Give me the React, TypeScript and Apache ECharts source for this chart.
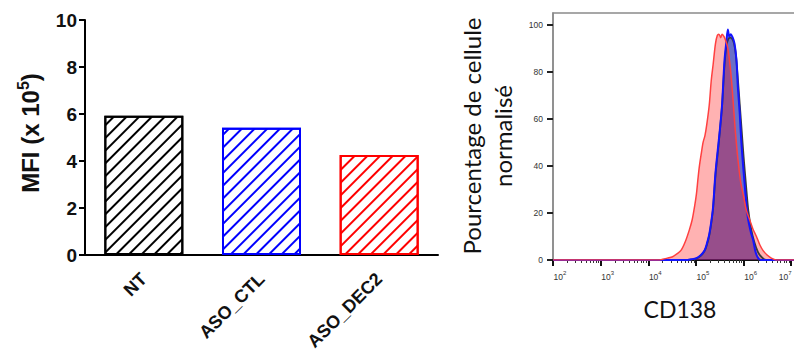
import React, { useEffect, useRef } from 'react';
import * as echarts from 'echarts';

// ---------- Left chart: MFI bar chart ----------
const categories = ['NT', 'ASO_CTL', 'ASO_DEC2'];
const mfiValues = [5.93, 5.42, 4.26];
const barColors = ['#000000', '#0000ff', '#ff0000'];

// ---------- Right chart: CD138 histograms (x = log10 of fluorescence, y = % of max) ----------
const ntCurve: [number, number][] = [
  [2, 0], [4.82, 0], [5.0, 0.6], [5.1, 1.8], [5.18, 3.8], [5.23, 6.5], [5.28, 10.5], [5.32, 15.5],
  [5.36, 22], [5.41, 36], [5.48, 50], [5.52, 59], [5.55, 66], [5.6, 83], [5.64, 91], [5.68, 94],
  [5.72, 94.5], [5.76, 94], [5.8, 92], [5.84, 87], [5.88, 77], [5.92, 66], [5.96, 55], [6.0, 44],
  [6.05, 32], [6.1, 21], [6.16, 13], [6.22, 8], [6.3, 3.5], [6.38, 1.2], [6.47, 0], [7.1, 0],
];
const ctlCurve: [number, number][] = [
  [2, 0], [4.79, 0], [4.9, 0.3], [5.0, 0.7], [5.1, 2], [5.18, 4], [5.23, 7], [5.28, 11], [5.32, 16],
  [5.36, 22.6], [5.41, 37], [5.48, 51], [5.52, 59], [5.55, 66.5], [5.6, 85], [5.64, 93], [5.67, 98],
  [5.7, 95], [5.73, 96], [5.77, 94.6], [5.81, 92], [5.85, 85], [5.88, 73.5], [5.92, 62], [5.95, 51],
  [5.99, 40], [6.04, 28], [6.09, 18], [6.15, 12], [6.2, 8.5], [6.25, 3.5], [6.3, 1], [6.36, 0], [7.1, 0],
];
const dec2Curve: [number, number][] = [
  [2, 0], [4.2, 0], [4.3, 0.3], [4.4, 0.8], [4.51, 1.4], [4.6, 2.6], [4.69, 4.2], [4.78, 8],
  [4.86, 12.7], [4.92, 17], [4.97, 22.6], [5.01, 28], [5.04, 34], [5.07, 39.5], [5.11, 45], [5.15, 50],
  [5.19, 53], [5.23, 58], [5.28, 66], [5.32, 76], [5.36, 83], [5.41, 92], [5.45, 95.5], [5.48, 96],
  [5.5, 95.5], [5.52, 94.5], [5.55, 96], [5.59, 95], [5.63, 93], [5.67, 90], [5.72, 82], [5.76, 73],
  [5.8, 62], [5.83, 54], [5.88, 43], [5.94, 33], [6.0, 27], [6.06, 21], [6.13, 17], [6.2, 13],
  [6.27, 10], [6.34, 6.5], [6.41, 4], [6.5, 2], [6.59, 0.7], [6.68, 0], [7.1, 0],
];
const yMajorTicks = [0, 20, 40, 60, 80, 100];
const yMinorTicks = [4, 8, 12, 16, 24, 28, 32, 36, 44, 48, 52, 56, 64, 68, 72, 76, 84, 88, 92, 96];
const decades = [2, 3, 4, 5, 6, 7];
const xMinorTicks: number[] = [];
[2, 3, 4, 5, 6].forEach((d) => {
  [2, 3, 4, 5, 6, 7, 8, 9].forEach((k) => xMinorTicks.push(d + Math.log10(k)));
});

const FLOW_FONT = 'Liberation Sans, Arial, sans-serif';
const CAL_FONT = 'Lato, sans-serif';

export default function App() {
  const ref = useRef<HTMLDivElement>(null);

  useEffect(() => {
    if (!ref.current) return;
    const chart = echarts.init(ref.current, undefined, { renderer: 'svg' });

    const bars = mfiValues.map((v, i) => ({
      value: v,
      itemStyle: {
        color: '#ffffff',
        borderColor: barColors[i],
        borderWidth: 2,
        decal: {
          symbol: 'rect',
          symbolSize: 1,
          color: barColors[i],
          dashArrayX: [1, 0],
          dashArrayY: [1.8, 6.5],
          rotation: -Math.PI / 4,
        },
      },
    }));

    const histSeries = (
      name: string,
      data: [number, number][],
      line: string,
      fill: string,
      lw: number
    ) => ({
      type: 'line',
      name,
      xAxisIndex: 1,
      yAxisIndex: 1,
      data,
      showSymbol: false,
      symbol: 'none',
      smooth: 0.3,
      lineStyle: { color: line, width: lw },
      areaStyle: { color: fill, opacity: 1 },
      z: 3,
    });

    const supRich = {
      b: { fontSize: 8.5, fontFamily: FLOW_FONT, color: '#333', padding: [0, 0, 0, 14] },
      e: { fontSize: 6, fontFamily: FLOW_FONT, color: '#333', padding: [0, 0, 7, 0] },
      r: { fontSize: 8.5, fontFamily: FLOW_FONT, color: '#333' },
      re: { fontSize: 6, fontFamily: FLOW_FONT, color: '#333', padding: [0, 12, 7, 0] },
    };

    chart.setOption({
      animation: false,
      grid: [
        { left: 85, right: 356, top: 20, bottom: 99, containLabel: false, outerBoundsMode: 'none' },
        {
          left: 553, right: -2, top: 13, bottom: 94, containLabel: false, outerBoundsMode: 'none',
          show: true, borderColor: '#8a8a8a', borderWidth: 1.5, backgroundColor: 'transparent',
        },
      ],
      xAxis: [
        {
          type: 'category',
          gridIndex: 0,
          data: categories,
          axisLine: { lineStyle: { color: '#000', width: 2 } },
          axisTick: { alignWithLabel: true, length: 6, lineStyle: { color: '#000', width: 2 } },
          axisLabel: {
            rotate: 45,
            margin: 21,
            fontFamily: FLOW_FONT,
            fontWeight: 'bold',
            fontSize: 18,
            color: '#111',
          },
        },
        {
          type: 'value',
          gridIndex: 1,
          position: 'bottom',
          min: 2,
          max: 7.1,
          interval: 1,
          splitLine: { show: false },
          axisLine: { lineStyle: { color: '#111', width: 2 } },
          axisTick: { customValues: decades, length: 6, lineStyle: { color: '#111', width: 2 } },
          axisLabel: {
            customValues: decades,
            margin: 10,
            formatter: (v: number) => (v >= 7 ? `{r|10}{re|${v}}` : `{b|10}{e|${v}}`),
            rich: supRich,
          },
        },
        {
          type: 'value',
          gridIndex: 1,
          position: 'bottom',
          min: 2,
          max: 7.1,
          splitLine: { show: false },
          axisLine: { show: false },
          axisTick: { customValues: xMinorTicks, length: 3, lineStyle: { color: '#333', width: 1 } },
          axisLabel: { show: false },
        },
      ],
      yAxis: [
        {
          type: 'value',
          gridIndex: 0,
          min: 0,
          max: 10,
          interval: 2,
          splitLine: { show: false },
          axisLine: { show: true, lineStyle: { color: '#000', width: 2 } },
          axisTick: { show: true, length: 6, lineStyle: { color: '#000', width: 2 } },
          axisLabel: {
            margin: 8,
            fontFamily: FLOW_FONT,
            fontWeight: 'bold',
            fontSize: 19,
            color: '#111',
          },
        },
        {
          type: 'value',
          gridIndex: 1,
          min: 0,
          max: 105,
          splitLine: { show: false },
          axisLine: { show: true, lineStyle: { color: '#8a8a8a', width: 1.5 } },
          axisTick: { show: true, customValues: yMajorTicks, length: 6, lineStyle: { color: '#222', width: 2 } },
          axisLabel: {
            customValues: yMajorTicks,
            margin: 10,
            fontFamily: FLOW_FONT,
            fontSize: 8.5,
            color: '#333',
          },
        },
        {
          type: 'value',
          gridIndex: 1,
          min: 0,
          max: 105,
          splitLine: { show: false },
          axisLine: { show: false },
          axisTick: { show: true, customValues: yMinorTicks, length: 3, lineStyle: { color: '#444', width: 1 } },
          axisLabel: { show: false },
        },
      ],
      series: [
        {
          type: 'bar',
          xAxisIndex: 0,
          yAxisIndex: 0,
          data: bars,
          barWidth: 79,
        },
        histSeries('NT', ntCurve, '#3a3a3a', 'rgba(70,70,70,0.3)', 1.8),
        histSeries('ASO_CTL', ctlCurve, '#1414ff', 'rgba(30,40,200,0.55)', 2),
        histSeries('ASO_DEC2', dec2Curve, '#ff4040', 'rgba(255,0,0,0.3)', 1.5),
      ],
      graphic: [
        {
          type: 'text',
          x: 30,
          y: 133,
          rotation: Math.PI / 2,
          style: {
            text: '{a|MFI (x 10}{s|5}{a|)}',
            align: 'center',
            verticalAlign: 'middle',
            rich: {
              a: { fontSize: 24, fontWeight: 'bold', fontFamily: FLOW_FONT, fill: '#111' },
              s: { fontSize: 16, fontWeight: 'bold', fontFamily: FLOW_FONT, fill: '#111', padding: [0, 0, 14, 0] },
            },
          },
        },
        {
          type: 'text',
          x: 487,
          y: 136,
          rotation: Math.PI / 2,
          style: {
            text: 'Pourcentage de cellule\nnormalisé',
            align: 'center',
            verticalAlign: 'middle',
            fontSize: 24,
            lineHeight: 31,
            fontFamily: CAL_FONT,
            fill: '#111',
          },
        },
        {
          type: 'text',
          x: 680,
          y: 309,
          style: {
            text: 'CD138',
            align: 'center',
            verticalAlign: 'middle',
            fontSize: 23,
            fontFamily: CAL_FONT,
            fill: '#111',
          },
        },
      ],
    });

    return () => chart.dispose();
  }, []);

  return (
    <div
      ref={ref}
      style={{ position: 'fixed', left: 0, top: 0, width: 794, height: 354, background: '#fff' }}
    />
  );
}
